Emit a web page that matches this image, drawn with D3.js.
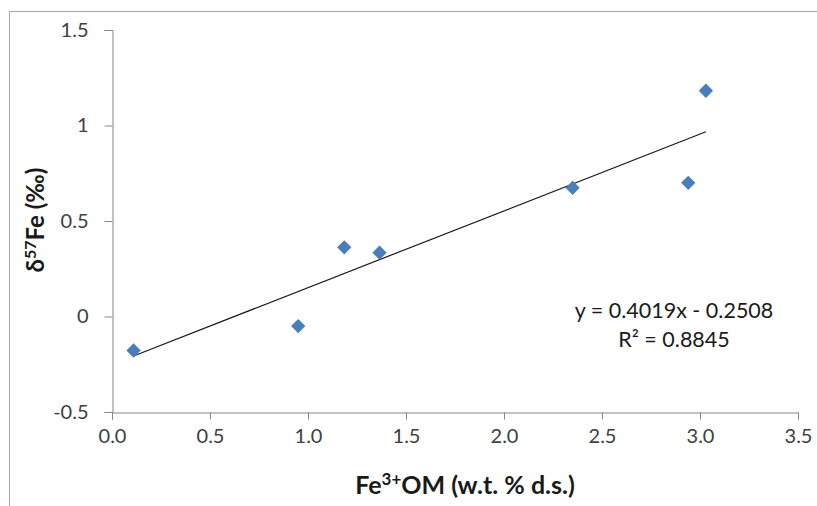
<!DOCTYPE html>
<html><head><meta charset="utf-8">
<script src="https://cdn.jsdelivr.net/npm/d3@7"></script>
<style>
html,body{margin:0;padding:0;background:#fff;}
text{font-family:Lato,"Liberation Sans",sans-serif;}
</style></head>
<body>
<svg id="c" width="817" height="506"></svg>
<script>
const xValues = [0.11, 0.95, 1.185, 1.365, 2.35, 2.94, 3.03];
const yValues = [-0.178, -0.05, 0.362, 0.334, 0.674, 0.70, 1.182];
const xTicks = [0, 0.5, 1, 1.5, 2, 2.5, 3, 3.5];
const yTicks = [-0.5, 0, 0.5, 1, 1.5];
const slope = 0.4019, intercept = -0.2508;
const equationText = "y = 0.4019x - 0.2508";
const r2Text = "R² = 0.8845";

const svg = d3.select("#c");
svg.append("rect").attr("x",9.5).attr("y",11.5).attr("width",900).attr("height",600)
  .attr("fill","none").attr("stroke","#a6a6a6").attr("stroke-width",1);

const x = d3.scaleLinear().domain([0,3.5]).range([112,798]);
const y = d3.scaleLinear().domain([-0.5,1.5]).range([412,30]);

const axisColor = "#868686";
const gx = svg.append("g").attr("transform","translate(0,412.5)")
  .call(d3.axisBottom(x).tickValues(xTicks).tickFormat(d3.format(".1f")).tickSizeOuter(0).tickSize(7).tickPadding(9));
const gy = svg.append("g").attr("transform","translate(112.5,0)")
  .call(d3.axisLeft(y).tickValues(yTicks).tickFormat(d=>String(d)).tickSizeOuter(0).tickSize(8).tickPadding(16));
[gx,gy].forEach(g=>{
  g.select(".domain").attr("stroke",axisColor);
  g.selectAll(".tick line").attr("stroke",axisColor);
  g.selectAll(".tick text").attr("fill","#404040").attr("font-size","20px")
    .attr("font-family","Lato,'Liberation Sans',sans-serif");
});

const xmin = d3.min(xValues), xmax = d3.max(xValues);
svg.append("line")
  .attr("x1",x(xmin)).attr("y1",y(slope*xmin+intercept))
  .attr("x2",x(xmax)).attr("y2",y(slope*xmax+intercept))
  .attr("stroke","#1a1a1a").attr("stroke-width",1.2);

const sym = d3.symbol().type(d3.symbolDiamond2).size(130);
svg.append("g").selectAll("path").data(xValues.map((v,i)=>[v,yValues[i]])).join("path")
  .attr("d",sym).attr("transform",d=>`translate(${x(d[0])},${y(d[1])})`)
  .attr("fill","#4a7ebb");

svg.append("text").attr("x",674).attr("y",318).attr("text-anchor","middle")
  .attr("font-size","21.5px").attr("fill","#1a1a1a").text(equationText);
svg.append("text").attr("x",674).attr("y",347).attr("text-anchor","middle")
  .attr("font-size","21.5px").attr("fill","#1a1a1a").text(r2Text);

const yl = svg.append("text").attr("transform","translate(44,220) rotate(-90)")
  .attr("text-anchor","middle").attr("font-size","24px").attr("font-weight","bold").attr("fill","#1a1a1a");
yl.append("tspan").text("δ");
yl.append("tspan").attr("dy",-8).attr("font-size","16px").text("57");
yl.append("tspan").attr("dy",8).text("Fe (‰)");

const xl = svg.append("text").attr("x",465).attr("y",494)
  .attr("text-anchor","middle").attr("font-size","25px").attr("font-weight","bold").attr("fill","#1a1a1a");
xl.append("tspan").text("Fe");
xl.append("tspan").attr("dy",-9).attr("font-size","17px").text("3+");
xl.append("tspan").attr("dy",9).text("OM (w.t. % d.s.)");
</script>
</body></html>
